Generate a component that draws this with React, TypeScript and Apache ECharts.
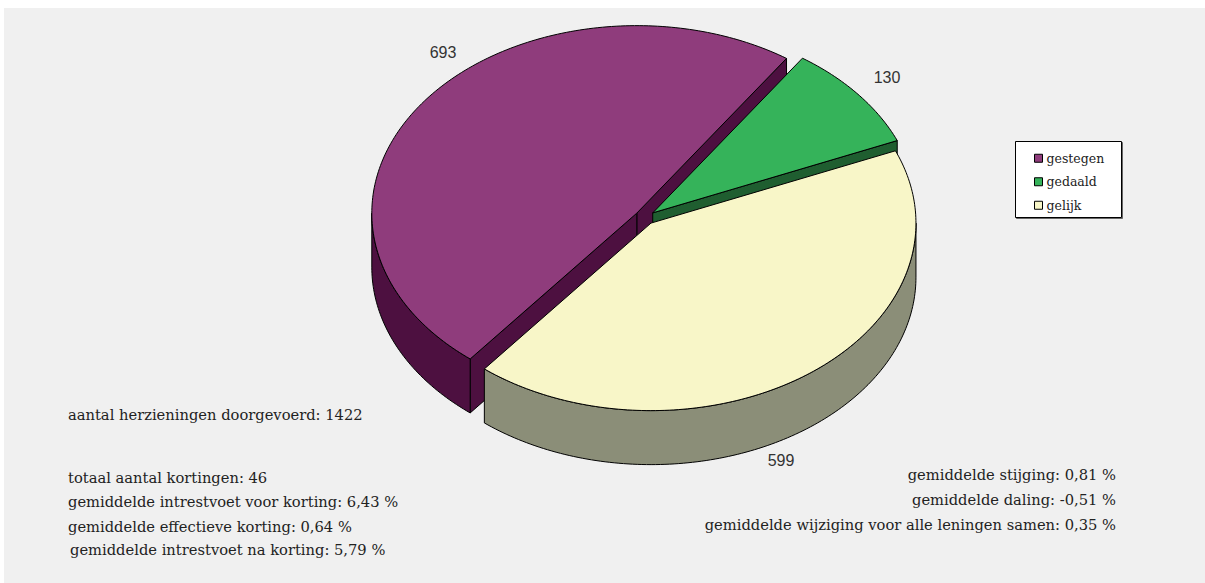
import React, { useEffect, useRef } from 'react';
import * as echarts from 'echarts';

// ---- data ----
const categories = ['gestegen', 'gedaald', 'gelijk'];
const counts = [693, 130, 599];
const leftNotes = [
  'aantal herzieningen doorgevoerd: 1422',
  'totaal aantal kortingen: 46',
  'gemiddelde intrestvoet voor korting: 6,43 %',
  'gemiddelde effectieve korting: 0,64 %',
  'gemiddelde intrestvoet na korting: 5,79 %',
];
const rightNotes = [
  'gemiddelde stijging: 0,81 %',
  'gemiddelde daling: -0,51 %',
  'gemiddelde wijziging voor alle leningen samen: 0,35 %',
];

// ---- styles / layout ----
const topColors = ['#8f3c7c', '#35b35a', '#f8f6c8'];
const sideColors = ['#4d1040', '#1f5e30', '#8b8e78'];
const CX = 644.9;
const CY = 217.4;
const RX = 265;
const RY = 187.5;
const DEPTH = 54;
const EXPLODE = 10.1;
const SPLIT_ANGLE = 55.6; // boundary between first and second slice (deg, math)
const labelAnchors = [
  [443, 52],
  [887, 77.5],
  [781, 460],
];
const leftNoteX = [68, 68, 68, 68, 70];
const leftNoteY = [414, 477, 501.5, 526.5, 549];
const rightNoteY = [474, 499, 524];
const SERIF = '"DejaVu Serif", serif';

const total = counts.reduce((a, b) => a + b, 0);
const startAngle = SPLIT_ANGLE + (counts[0] / total) * 360;
const slices = (() => {
  let cum = 0;
  return counts.map((v) => {
    const hi = startAngle - (cum / total) * 360;
    cum += v;
    const lo = startAngle - (cum / total) * 360;
    return { lo, hi };
  });
})();

const rad = (d: number) => (d * Math.PI) / 180;

function makeRender(i: number) {
  return (params: any, api: any) => {
    const value = api.value(0);
    const { lo, hi } = slices[i];
    const mid = (lo + hi) / 2;
    const ox = CX + EXPLODE * Math.cos(rad(mid));
    const oy = CY - EXPLODE * (RY / RX) * Math.sin(rad(mid));
    const pt = (a: number, dz: number) => [ox + RX * Math.cos(rad(a)), oy - RY * Math.sin(rad(a)) + dz];
    const arc = (a1: number, a2: number, dz: number) => {
      const n = Math.max(2, Math.ceil(Math.abs(a2 - a1)));
      const out: number[][] = [];
      for (let k = 0; k <= n; k++) out.push(pt(a1 + ((a2 - a1) * k) / n, dz));
      return out;
    };
    const stroke = { stroke: '#000', lineWidth: 1, lineJoin: 'round' };
    const children: any[] = [];
    // cut faces
    const face = (a: number) => ({
      type: 'polygon',
      shape: { points: [[ox, oy], pt(a, 0), pt(a, DEPTH), [ox, oy + DEPTH]] },
      style: { fill: sideColors[i], ...stroke },
    });
    if (Math.cos(rad(lo)) > 0) children.push(face(lo));
    if (Math.cos(rad(hi)) < 0) children.push(face(hi));
    // outer wall (front half)
    for (let k = -1; k <= 1; k++) {
      const wlo = Math.max(lo, -180 + 360 * k);
      const whi = Math.min(hi, 360 * k);
      if (whi > wlo) {
        const pts = arc(wlo, whi, 0).concat(arc(wlo, whi, DEPTH).reverse());
        children.push({
          type: 'polygon',
          shape: { points: pts },
          style: { fill: sideColors[i], ...stroke },
        });
      }
    }
    // top
    children.push({
      type: 'polygon',
      shape: { points: [[ox, oy]].concat(arc(lo, hi, 0)) },
      style: { fill: topColors[i], ...stroke },
    });
    // value label
    children.push({
      type: 'text',
      x: labelAnchors[i][0],
      y: labelAnchors[i][1],
      style: {
        text: String(value),
        fill: '#333',
        font: '16px "Liberation Sans", Arial, sans-serif',
        align: 'center',
        verticalAlign: 'middle',
        textAlign: 'center',
        textVerticalAlign: 'middle',
      },
    });
    return { type: 'group', children };
  };
}

export default function App() {
  const ref = useRef<HTMLDivElement>(null);
  useEffect(() => {
    if (!ref.current) return;
    const chart = echarts.init(ref.current, undefined, { renderer: 'svg' });
    const textStyle = (x: number, y: number, text: string, align: string) => ({
      type: 'text',
      x,
      y,
      z: 5,
      style: {
        text,
        fill: '#222',
        font: `14.7px ${SERIF}`,
        align,
        verticalAlign: 'middle',
        textAlign: align,
        textVerticalAlign: 'middle',
      },
    });
    chart.setOption({
      animation: false,
      backgroundColor: '#ffffff',
      legend: {
        orient: 'vertical',
        left: 1034,
        top: 151,
        padding: 0,
        itemGap: 9,
        itemWidth: 8,
        itemHeight: 8,
        icon: 'rect',
        selectedMode: false,
        itemStyle: { borderColor: '#000', borderWidth: 1 },
        textStyle: { fontFamily: SERIF, fontSize: 12.5, color: '#222', lineHeight: 14.5, padding: [0, 0, 0, -1] },
        data: categories,
        z: 6,
      },
      graphic: [
        { type: 'rect', z: 0, shape: { x: 4, y: 8, width: 1201, height: 575 }, style: { fill: '#f0f0f0' } },
        {
          type: 'rect',
          z: 5,
          shape: { x: 1015.5, y: 141.5, width: 106, height: 76 },
          style: { fill: '#fff', stroke: '#000', lineWidth: 1, shadowColor: '#666', shadowOffsetX: 1, shadowOffsetY: 1, shadowBlur: 0 },
        },
        ...leftNotes.map((t, k) => textStyle(leftNoteX[k], leftNoteY[k], t, 'left')),
        ...rightNotes.map((t, k) => textStyle(1116, rightNoteY[k], t, 'right')),
      ],
      series: categories.map((name, i) => ({
        type: 'custom',
        name,
        coordinateSystem: 'none',
        silent: true,
        itemStyle: { color: topColors[i] },
        data: [[counts[i]]],
        renderItem: makeRender(i),
      })),
    });
    return () => chart.dispose();
  }, []);
  return <div ref={ref} style={{ position: 'fixed', left: 0, top: 0, width: 1205, height: 583 }} />;
}
